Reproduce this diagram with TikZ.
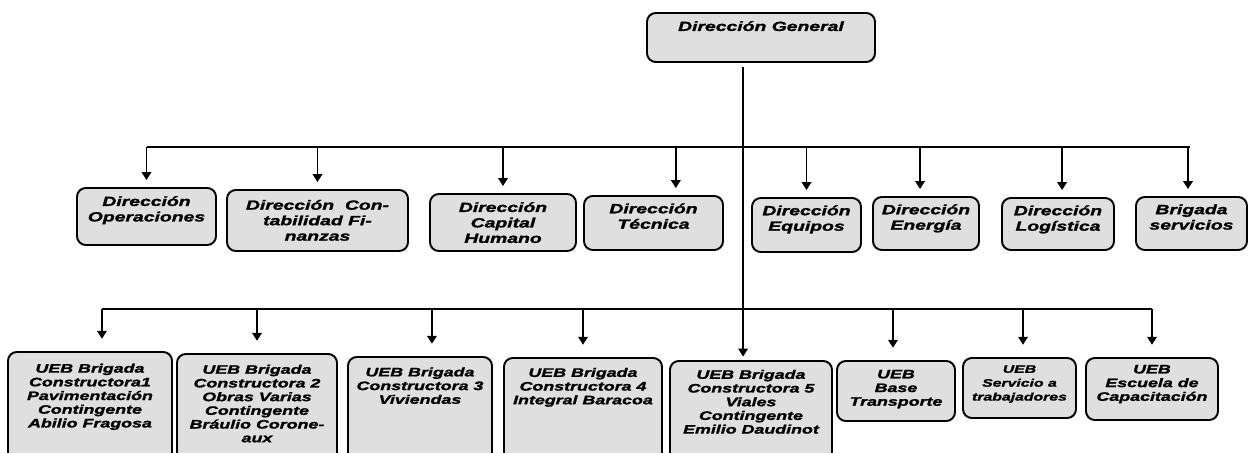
\documentclass[tikz,border=0pt]{standalone}
\usepackage{fontspec}
\setmainfont{Liberation Sans}[FakeStretch=1.45,BoldItalicFeatures={FakeBold=1.6}]
\usetikzlibrary{arrows.meta,positioning,fit}
\begin{document}
\lineskiplimit=-20pt
\begin{tikzpicture}[x=0.02cm,y=-0.02cm,
    caja/.style={draw,line width=1.1pt,rounded corners=5pt,fill=gray!25,inner sep=0pt},
    rotulo/.style={align=center,inner sep=0pt,
      font={\bfseries\itshape\fontsize{7.6}{8.8}\selectfont}},
    rotulob/.style={rotulo,font={\bfseries\itshape\fontsize{7}{7.8}\selectfont}},
    rotuloc/.style={rotulo,font={\bfseries\itshape\fontsize{6.2}{7.9}\selectfont}},
    linea/.style={line width=0.8pt},
    flecha/.style={linea,-{Triangle[width=5.5pt,length=4.5pt]},shorten >=4pt}]
  \clip (0,0) rectangle (1249,453);

  \node[caja,fit={(647,13) (875,62)}] (dg) {};
  \node[rotulo,below=5pt of dg.north] (dgt) {Dirección General};

  \node[caja,fit={(77,188) (216,245)}] (op) {};
  \node[rotulo,below=5pt of op.north] (opt) {Dirección\\Operaciones};
  \node[caja,fit={(227,190) (408,251)}] (co) {};
  \node[rotulo,below=6pt of co.north] (cot) {Dirección\ \ Con-\\tabilidad Fi-\\nanzas};
  \node[caja,fit={(430,194) (576,251)}] (ch) {};
  \node[rotulo,below=5pt of ch.north] (cht) {Dirección\\Capital\\Humano};
  \node[caja,fit={(584,196) (723,250)}] (te) {};
  \node[rotulo,below=4.6pt of te.north] (tet) {Dirección\\Técnica};
  \node[caja,fit={(752,198) (861,252)}] (eq) {};
  \node[rotulo,below=4.6pt of eq.north] (eqt) {Dirección\\Equipos};
  \node[caja,fit={(873,197) (979,250)}] (en) {};
  \node[rotulo,below=4.6pt of en.north] (ent) {Dirección\\Energía};
  \node[caja,fit={(1002,198) (1114,250)}] (lo) {};
  \node[rotulo,below=4.6pt of lo.north] (lot) {Dirección\\Logística};
  \node[caja,fit={(1136,197) (1247,250)}] (bs) {};
  \node[rotulo,below=4.6pt of bs.north] (bst) {Brigada\\servicios};

  \node[caja,fit={(8,352) (172,465)}] (u1) {};
  \node[rotulob,below=7pt of u1.north] (u1t)
    {UEB Brigada\\Constructora1\\Pavimentación\\Contingente\\Abilio Fragosa};
  \node[caja,fit={(177,354) (337,465)}] (u2) {};
  \node[rotulob,below=6.5pt of u2.north] (u2t)
    {UEB Brigada\\Constructora 2\\Obras Varias\\Contingente\\Bráulio Corone-\\aux};
  \node[caja,fit={(348,357) (492,465)}] (u3) {};
  \node[rotulob,below=6.3pt of u3.north] (u3t) {UEB Brigada\\Constructora 3\\Viviendas};
  \node[caja,fit={(504,358) (662,465)}] (u4) {};
  \node[rotulob,below=6pt of u4.north] (u4t) {UEB Brigada\\Constructora 4\\Integral Baracoa};
  \node[caja,fit={(670,361) (832,465)}] (u5) {};
  \node[rotulob,below=5.4pt of u5.north] (u5t)
    {UEB Brigada\\Constructora 5\\Viales\\Contingente\\Emilio Daudinot};
  \node[caja,fit={(837,361) (955,421)}] (ba) {};
  \node[rotulob,below=5.4pt of ba.north] (bat) {UEB\\Base\\Transporte};
  \node[caja,fit={(963,358) (1076,418)}] (se) {};
  \node[rotuloc,below=4.5pt of se.north] (set) {UEB\\Servicio a\\trabajadores};
  \node[caja,fit={(1086,358) (1218,420)}] (es) {};
  \node[rotulob,below=4.3pt of es.north] (est) {UEB\\Escuela de\\Capacitación};

  \draw[flecha,shorten <=2.5pt,shorten >=2pt] ([xshift=-10.2pt]dg.south)
    -- ([xshift=-10.2pt]dg.south |- u5.north);

  \coordinate (mi) at (147,147);
  \coordinate (md) at (1190,147);
  \draw[linea] (mi) -- (md);
  \draw[flecha] (op.north |- mi) -- (op.north);
  \draw[flecha] (co.north |- mi) -- (co.north);
  \draw[flecha] (ch.north |- mi) -- (ch.north);
  \draw[flecha] ([xshift=12.7pt]te.north |- mi) -- ([xshift=12.7pt]te.north);
  \draw[flecha] (eq.north |- mi) -- (eq.north);
  \draw[flecha] ([xshift=-3.4pt]en.north |- mi) -- ([xshift=-3.4pt]en.north);
  \draw[flecha] ([xshift=2.3pt]lo.north |- mi) -- ([xshift=2.3pt]lo.north);
  \draw[flecha] ([xshift=-2pt]bs.north |- mi) -- ([xshift=-2pt]bs.north);

  \coordinate (bi) at (102,309);
  \coordinate (bd) at (1152,309);
  \draw[linea] (bi) -- (bd);
  \draw[flecha,shorten >=7pt] ([xshift=6.8pt]u1.north |- bi) -- ([xshift=6.8pt]u1.north);
  \draw[flecha,shorten >=7pt] (u2.north |- bi) -- (u2.north);
  \draw[flecha,shorten >=7pt] ([xshift=6.8pt]u3.north |- bi) -- ([xshift=6.8pt]u3.north);
  \draw[flecha,shorten >=7pt] (u4.north |- bi) -- (u4.north);
  \draw[flecha,shorten >=7pt] ([xshift=-1.7pt]ba.north |- bi) -- ([xshift=-1.7pt]ba.north);
  \draw[flecha,shorten >=7pt] ([xshift=2pt]se.north |- bi) -- ([xshift=2pt]se.north);
  \draw[flecha,shorten >=7pt] (es.north |- bi) -- (es.north);
\end{tikzpicture}
\end{document}
